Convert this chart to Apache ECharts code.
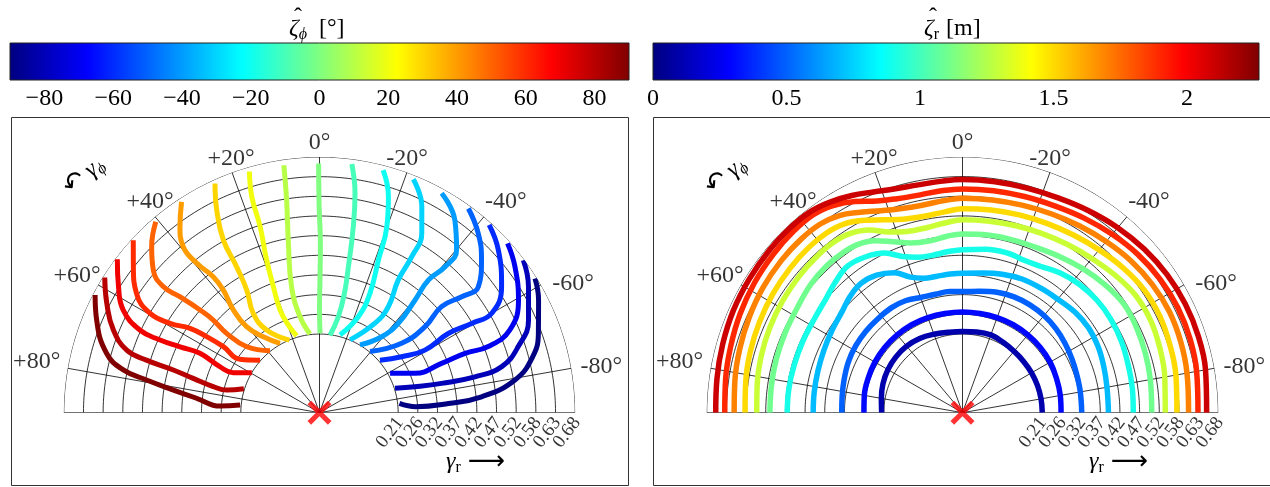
<!DOCTYPE html>
<html><head><meta charset="utf-8">
<script src="https://cdn.jsdelivr.net/npm/echarts@6/dist/echarts.min.js"></script>
<style>html,body{margin:0;padding:0;background:#fff}#c{width:1270px;height:487px}</style>
</head><body><div id="c"></div><script>
// ---------- data ----------
const phiBarRange = [-90, 90];
const phiBarTicks = [-80, -60, -40, -20, 0, 20, 40, 60, 80];
const rBarRange = [0, 2.27];
const rBarTicks = [0, 0.5, 1, 1.5, 2];
const radialTickValues = [0.2092, 0.2615, 0.3138, 0.3662, 0.4185, 0.4708, 0.5231, 0.5754, 0.6277, 0.68];
const radialTickLabels = ['0.21', '0.26', '0.32', '0.37', '0.42', '0.47', '0.52', '0.58', '0.63', '0.68'];
const angleTickValues = [80, 60, 40, 20, 0, -20, -40, -60, -80];
const angleTickLabels = ['+80°', '+60°', '+40°', '+20°', '0°', '-20°', '-40°', '-60°', '-80°'];
const spokeAngles = [-90, -80, -60, -40, -20, 0, 20, 40, 60, 80, 90];

// left panel: contour lines of zeta_phi, points [gamma_r, gamma_phi(deg)]
const phiLevels = [90, 80, 70, 60, 50, 40, 30, 20, 10, 0, -10, -20, -30, -40, -50, -60, -70, -80, -90];
const phiP90 = [[0.674,62.3],[0.642,67.4],[0.588,74.4],[0.534,77.7],[0.468,79.3],[0.393,81.2],[0.329,83.3],[0.265,86.2],[0.212,84.5]];
const phiP80 = [[0.675,57.8],[0.636,62.8],[0.591,68.1],[0.539,72.0],[0.481,73.1],[0.405,73.7],[0.348,74.8],[0.291,76.2],[0.254,76.3],[0.211,72.4]];
const phiP70 = [[0.675,52.8],[0.631,57.9],[0.589,62.4],[0.526,65.3],[0.466,65.5],[0.410,64.7],[0.355,63.6],[0.292,65.2],[0.253,65.1],[0.209,59.5]];
const phiP60 = [[0.675,47.2],[0.629,51.9],[0.581,56.9],[0.523,59.6],[0.463,59.1],[0.411,56.9],[0.362,56.0],[0.310,55.5],[0.255,56.1],[0.211,48.5]];
const phiP50 = [[0.669,40.6],[0.628,45.3],[0.582,49.4],[0.534,51.1],[0.483,50.3],[0.419,49.3],[0.375,48.9],[0.325,49.5],[0.261,47.8],[0.211,38.6]];
const phiP40 = [[0.670,33.2],[0.618,36.9],[0.571,39.4],[0.514,39.4],[0.459,38.0],[0.415,38.1],[0.356,40.0],[0.300,40.3],[0.251,36.5],[0.212,29.7]];
const phiP30 = [[0.670,24.5],[0.604,26.9],[0.526,29.1],[0.446,29.6],[0.379,30.7],[0.317,33.7],[0.261,32.6],[0.209,22.5]];
const phiP20 = [[0.668,16.2],[0.602,17.4],[0.519,17.7],[0.430,19.1],[0.357,20.1],[0.293,21.0],[0.247,19.6],[0.213,16.6]];
const phiP10 = [[0.665,8.2],[0.572,8.8],[0.458,10.4],[0.343,12.5],[0.261,11.5],[0.211,6.9]];
const phiZ00 = [[0.663,0.2],[0.550,0.1],[0.450,-0.3],[0.350,-0.2],[0.280,0.0],[0.211,-0.4]];
const phiM10 = [[0.667,-7.4],[0.591,-9.2],[0.503,-10.3],[0.396,-11.2],[0.324,-11.8],[0.260,-11.1],[0.208,-7.7]];
const phiM20 = [[0.667,-14.7],[0.603,-17.7],[0.526,-19.9],[0.435,-21.1],[0.345,-22.9],[0.275,-22.0],[0.214,-14.8]];
const phiM30 = [[0.669,-21.9],[0.612,-26.4],[0.549,-29.7],[0.482,-30.6],[0.410,-30.7],[0.336,-33.0],[0.280,-31.8],[0.210,-22.8]];
const phiM40 = [[0.668,-29.1],[0.626,-35.1],[0.566,-40.1],[0.512,-40.7],[0.456,-39.4],[0.393,-40.3],[0.317,-41.4],[0.261,-39.3],[0.210,-30.9]];
const phiM50 = [[0.672,-36.1],[0.637,-41.5],[0.592,-46.7],[0.539,-51.6],[0.488,-50.8],[0.430,-49.0],[0.362,-50.8],[0.286,-49.8],[0.211,-39.6]];
const phiM60 = [[0.673,-42.1],[0.643,-47.7],[0.589,-55.3],[0.529,-60.0],[0.469,-59.6],[0.402,-58.4],[0.326,-59.3],[0.264,-55.7],[0.213,-49.0]];
const phiM70 = [[0.673,-48.0],[0.649,-53.2],[0.608,-60.5],[0.552,-66.5],[0.482,-68.6],[0.418,-67.8],[0.350,-68.0],[0.275,-67.6],[0.215,-60.8]];
const phiM80 = [[0.677,-53.2],[0.649,-58.9],[0.608,-66.1],[0.557,-71.6],[0.500,-75.8],[0.424,-77.0],[0.334,-76.5],[0.263,-74.8],[0.211,-72.1]];
const phiM90 = [[0.675,-58.1],[0.655,-62.8],[0.619,-70.1],[0.586,-75.3],[0.527,-80.5],[0.433,-84.4],[0.344,-85.9],[0.257,-86.4],[0.214,-83.3]];
const phiLines = [phiP90, phiP80, phiP70, phiP60, phiP50, phiP40, phiP30, phiP20, phiP10, phiZ00, phiM10, phiM20, phiM30, phiM40, phiM50, phiM60, phiM70, phiM80, phiM90];

// right panel: contour lines of zeta_r, points [gamma_r, gamma_phi(deg)]
const rLevels = [0.1, 0.3, 0.5, 0.7, 0.9, 1.1, 1.3, 1.5, 1.7, 1.9, 2.1];
const rL01 = [[0.215,90],[0.219,80],[0.225,70],[0.229,60],[0.231,50],[0.231,40],[0.228,30],[0.222,20],[0.217,10],[0.216,0],[0.218,-10],[0.220,-20],[0.216,-30],[0.213,-40],[0.212,-50],[0.212,-60],[0.212,-70],[0.212,-80],[0.212,-90]];
const rL03 = [[0.262,90],[0.265,80],[0.267,70],[0.269,60],[0.270,50],[0.270,40],[0.270,30],[0.269,20],[0.268,10],[0.268,0],[0.268,-10],[0.269,-20],[0.270,-30],[0.270,-40],[0.270,-50],[0.269,-60],[0.266,-70],[0.264,-80],[0.262,-90]];
const rL05 = [[0.321,90],[0.323,82],[0.327,74],[0.332,66],[0.335,58],[0.336,50],[0.336,42],[0.337,34],[0.334,27],[0.326,20],[0.323,13],[0.324,6],[0.322,0],[0.326,-8],[0.333,-16],[0.337,-24],[0.338,-32],[0.337,-40],[0.334,-48],[0.329,-56],[0.324,-64],[0.320,-72],[0.318,-80],[0.317,-90]];
const rL07 = [[0.397,90],[0.398,82],[0.400,74],[0.404,66],[0.410,58],[0.418,50],[0.430,44],[0.437,38],[0.431,32],[0.414,26],[0.386,21],[0.372,16],[0.369,11],[0.370,5],[0.371,0],[0.375,-8],[0.383,-16],[0.389,-24],[0.391,-32],[0.394,-40],[0.401,-48],[0.404,-56],[0.401,-64],[0.395,-72],[0.390,-80],[0.388,-90]];
const rL09 = [[0.466,90],[0.466,82],[0.465,74],[0.465,66],[0.466,58],[0.473,50],[0.485,44],[0.495,38],[0.488,32],[0.472,26],[0.445,21],[0.430,16],[0.426,11],[0.430,5],[0.433,0],[0.439,-8],[0.441,-16],[0.437,-22],[0.441,-28],[0.453,-35],[0.461,-42],[0.466,-50],[0.466,-58],[0.463,-66],[0.458,-75],[0.456,-82],[0.454,-90]];
const rL11 = [[0.512,90],[0.513,82],[0.515,74],[0.517,66],[0.520,58],[0.528,50],[0.532,43],[0.531,37],[0.527,32],[0.513,27],[0.490,22],[0.472,17],[0.465,11],[0.471,5],[0.475,0],[0.477,-8],[0.478,-16],[0.481,-24],[0.489,-32],[0.499,-40],[0.509,-48],[0.517,-56],[0.515,-64],[0.511,-72],[0.507,-80],[0.503,-90]];
const rL13 = [[0.547,90],[0.551,82],[0.556,74],[0.560,66],[0.563,58],[0.566,50],[0.568,43],[0.568,37],[0.562,32],[0.545,27],[0.518,22],[0.504,17],[0.501,11],[0.507,5],[0.513,0],[0.514,-8],[0.517,-16],[0.521,-24],[0.527,-32],[0.535,-40],[0.546,-48],[0.556,-56],[0.557,-64],[0.552,-72],[0.546,-80],[0.539,-90]];
const rL15 = [[0.578,90],[0.582,82],[0.587,74],[0.591,66],[0.595,58],[0.598,50],[0.600,43],[0.599,37],[0.592,32],[0.574,27],[0.553,22],[0.538,17],[0.532,11],[0.536,5],[0.542,0],[0.544,-8],[0.547,-16],[0.551,-24],[0.557,-32],[0.565,-40],[0.575,-48],[0.583,-56],[0.584,-64],[0.580,-72],[0.576,-80],[0.570,-90]];
const rL17 = [[0.607,90],[0.611,82],[0.616,74],[0.621,66],[0.626,58],[0.629,50],[0.630,43],[0.628,37],[0.618,32],[0.598,27],[0.579,22],[0.567,17],[0.562,11],[0.566,5],[0.570,0],[0.571,-8],[0.574,-16],[0.579,-24],[0.586,-32],[0.594,-40],[0.603,-48],[0.609,-56],[0.612,-64],[0.610,-72],[0.606,-80],[0.601,-90]];
const rL19 = [[0.632,90],[0.636,82],[0.641,74],[0.647,66],[0.652,58],[0.656,50],[0.659,43],[0.659,37],[0.649,32],[0.630,27],[0.607,22],[0.595,17],[0.590,11],[0.593,5],[0.595,0],[0.596,-8],[0.598,-16],[0.602,-24],[0.610,-32],[0.619,-40],[0.628,-48],[0.634,-56],[0.637,-64],[0.636,-72],[0.632,-80],[0.626,-90]];
const rL21 = [[0.656,90],[0.659,82],[0.663,74],[0.667,66],[0.669,58],[0.671,50],[0.672,43],[0.670,37],[0.661,32],[0.648,27],[0.633,22],[0.622,17],[0.617,11],[0.618,5],[0.620,0],[0.620,-8],[0.621,-16],[0.625,-24],[0.633,-32],[0.642,-40],[0.650,-48],[0.656,-56],[0.659,-64],[0.659,-72],[0.656,-80],[0.649,-90]];
const rLines = [rL01, rL03, rL05, rL07, rL09, rL11, rL13, rL15, rL17, rL19, rL21];

// ---------- helpers ----------
const FONT = '"Liberation Serif", "Times New Roman", serif';
const JET = [[0,[0,0,128]],[0.125,[0,0,255]],[0.375,[0,255,255]],[0.625,[255,255,0]],[0.875,[255,0,0]],[1,[128,0,0]]];
function jet(t){
  t = Math.max(0, Math.min(1, t));
  for (let i = 1; i < JET.length; i++) {
    if (t <= JET[i][0]) {
      const t0 = JET[i-1][0], c0 = JET[i-1][1], t1 = JET[i][0], c1 = JET[i][1];
      const f = (t - t0) / (t1 - t0);
      return 'rgb(' + c0.map((c, k) => Math.round(c + (c1[k] - c) * f)).join(',') + ')';
    }
  }
  return 'rgb(128,0,0)';
}
const jetStops = JET.map(s => ({offset: s[0], color: 'rgb(' + s[1].join(',') + ')'}));

const chart = echarts.init(document.getElementById('c'), null, {renderer: 'canvas'});

const R_MAX = 0.68;
const polarCenters = [[319.5, 412.7], [962.5, 412.7]];
// pixel offsets of angle-label centres from their tick on the outer circle
const angleLabelOffset = {'80':[-31,-7], '60':[-21,-9], '40':[-5,-15], '20':[-1,-14], '0':[0,-14],
  '-20':[0,-14], '-40':[22,-15], '-60':[32,-1], '-80':[30,-2]};
const series = [];

function addGrid(pi){
  radialTickValues.forEach(r => {
    const pts = [];
    for (let a = -90; a <= 90; a += 1) pts.push([r, a]);
    series.push({type:'line', coordinateSystem:'polar', polarIndex:pi, data:pts, symbol:'none', silent:true,
      lineStyle:{color:'#000', width:0.8}, z:2});
  });
  spokeAngles.forEach(a => {
    const edge = Math.abs(a) === 90;
    series.push({type:'line', coordinateSystem:'polar', polarIndex:pi, data:[[0, a], [R_MAX, a]], symbol:'none', silent:true,
      lineStyle:{color: edge ? '#444' : '#000', width: edge ? 1.2 : 0.8}, z:2});
  });
  // radial tick labels
  series.push({type:'scatter', coordinateSystem:'polar', polarIndex:pi, silent:true,
    data: radialTickValues.map(r => [r, -90]), symbolSize: 0.01, itemStyle:{color:'transparent'},
    label:{show:true, formatter: p => radialTickLabels[p.dataIndex], position:'bottom', distance:9, offset:[3,0],
      rotate:53, align:'right', verticalAlign:'middle', fontFamily:FONT, fontSize:19, color:'#000'}, z:4});
  // angle tick labels
  series.push({type:'scatter', coordinateSystem:'polar', polarIndex:pi, silent:true, symbolSize:0.01,
    itemStyle:{color:'transparent'},
    data: angleTickValues.map(a => ({value:[R_MAX, a], label:{position: angleLabelOffset[String(a)]}})),
    label:{show:true, formatter: p => angleTickLabels[p.dataIndex], align:'center', verticalAlign:'middle',
      fontFamily:FONT, fontSize:24, color:'#000'}, z:4});
  // red cross at origin
  series.push({type:'scatter', coordinateSystem:'polar', polarIndex:pi, silent:true, data:[[0, 0]],
    symbol:'path://M0,3L3,0L10,7L17,0L20,3L13,10L20,17L17,20L10,13L3,20L0,17L7,10Z', symbolSize:24,
    itemStyle:{color:'#ff0000'}, z:10});
}
addGrid(0); addGrid(1);

phiLines.forEach((ln, i) => {
  const t = (phiLevels[i] - phiBarRange[0]) / (phiBarRange[1] - phiBarRange[0]);
  series.push({type:'line', coordinateSystem:'polar', polarIndex:0, data:ln, symbol:'none', smooth:0.45, silent:true,
    lineStyle:{color: jet(t), width:5, cap:'butt'}, z:5});
});
rLines.forEach((ln, i) => {
  const t = (rLevels[i] - rBarRange[0]) / (rBarRange[1] - rBarRange[0]);
  series.push({type:'line', coordinateSystem:'polar', polarIndex:1, data:ln, symbol:'none', smooth:0.4, silent:true,
    lineStyle:{color: jet(t), width:5.5, cap:'butt'}, z:5});
});

// colorbars
series.push({type:'line', xAxisIndex:0, yAxisIndex:0, data:[[phiBarRange[0],1],[phiBarRange[1],1]], symbol:'none', silent:true,
  lineStyle:{width:0}, areaStyle:{opacity:1, color: new echarts.graphic.LinearGradient(0,0,1,0, jetStops)}, z:1});
series.push({type:'line', xAxisIndex:2, yAxisIndex:1, data:[[rBarRange[0],1],[rBarRange[1],1]], symbol:'none', silent:true,
  lineStyle:{width:0}, areaStyle:{opacity:1, color: new echarts.graphic.LinearGradient(0,0,1,0, jetStops)}, z:1});

function angleAxis(pi){
  return {polarIndex:pi, type:'value', min:-90, max:90, interval:10, startAngle:0, endAngle:180, clockwise:false,
    axisLine:{show:false}, axisTick:{show:false}, splitLine:{show:false}, axisLabel:{show:false}};
}
function radiusAxis(pi){
  return {polarIndex:pi, type:'value', min:0, max:R_MAX, axisLine:{show:false}, axisTick:{show:false},
    axisLabel:{show:false}, splitLine:{show:false}};
}
const tickStyle = {lineStyle:{color:'#888', width:1}};
function barX(gi, range, ticks, fmt, pos){
  const bottom = pos === 'bottom';
  return {gridIndex:gi, type:'value', position:pos, min:range[0], max:range[1],
    axisLine:{show:false}, splitLine:{show:false},
    axisTick:{show:true, inside:true, length:9, customValues:ticks, ...tickStyle},
    axisLabel:{show:bottom, customValues:ticks, formatter:fmt, margin:7, fontFamily:FONT, fontSize:24, color:'#000'}};
}
const phiFmt = v => (v < 0 ? '\u2212' + Math.abs(v) : String(v));
const rFmt = v => String(v);

const richStyle = {
  g:{fontFamily:FONT, fontSize:24, fontStyle:'italic'},
  s:{fontFamily:FONT, fontSize:16, fontStyle:'italic', padding:[12,0,0,0]},
  u:{fontFamily:FONT, fontSize:16, padding:[12,0,0,0]},
  a:{fontFamily:'"DejaVu Sans", sans-serif', fontSize:26},
  w:{width:12}, v:{width:7}
};
function txt(x, y, text, extra){
  const base = {type:'text', x:x, y:y, silent:true,
    style:{text:text, fill:'#000', fontFamily:FONT, fontSize:24, align:'left', verticalAlign:'middle', rich:richStyle}};
  if (extra && extra.style) Object.assign(base.style, extra.style);
  if (extra && extra.rotation != null) base.rotation = extra.rotation;
  return base;
}

const option = {
  animation:false,
  backgroundColor:'#fff',
  textStyle:{fontFamily:FONT},
  polar:[{center:polarCenters[0], radius:255.7}, {center:polarCenters[1], radius:255.8}],
  angleAxis:[angleAxis(0), angleAxis(1)],
  radiusAxis:[radiusAxis(0), radiusAxis(1)],
  grid:[
    {left:10, top:43, width:619, height:37, show:true, borderColor:'#222', borderWidth:1, backgroundColor:'transparent', z:3},
    {left:653, top:43, width:606, height:37, show:true, borderColor:'#222', borderWidth:1, backgroundColor:'transparent', z:3}
  ],
  xAxis:[
    barX(0, phiBarRange, phiBarTicks, phiFmt, 'bottom'),
    barX(0, phiBarRange, phiBarTicks, phiFmt, 'top'),
    barX(1, rBarRange, rBarTicks, rFmt, 'bottom'),
    barX(1, rBarRange, rBarTicks, rFmt, 'top')
  ],
  yAxis:[
    {gridIndex:0, type:'value', min:0, max:1, show:false},
    {gridIndex:1, type:'value', min:0, max:1, show:false}
  ],
  graphic:[
    {type:'rect', shape:{x:11.5, y:117.5, width:617, height:368}, style:{fill:'none', stroke:'#333', lineWidth:1}, silent:true},
    {type:'rect', shape:{x:653.5, y:117.5, width:617, height:368}, style:{fill:'none', stroke:'#333', lineWidth:1}, silent:true},
    txt(289, 29, '{g|ζ}{s|ϕ}{w|}[°]'),
    txt(298, 18, 'ˆ', {style:{align:'center'}}),
    txt(924, 29, '{g|ζ}{u|r}{v|}[m]'),
    txt(933, 18, 'ˆ', {style:{align:'center'}}),
    txt(446, 462, '{g|γ}{u|r}{v|}{a|⟶}'),
    txt(1089, 462, '{g|γ}{u|r}{v|}{a|⟶}'),
    txt(84, 176, '{a|↶} {g|γ}{s|ϕ}', {rotation:40*Math.PI/180, style:{fontSize:22, align:'center'}}),
    txt(726, 176, '{a|↶} {g|γ}{s|ϕ}', {rotation:40*Math.PI/180, style:{fontSize:22, align:'center'}})
  ],
  series: series
};
chart.setOption(option);
</script></body></html>
